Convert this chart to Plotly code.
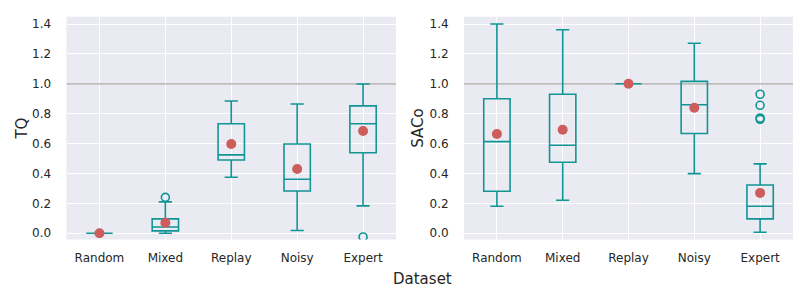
import plotly.graph_objects as go

categories = ["Random", "Mixed", "Replay", "Noisy", "Expert"]

# TQ box statistics
tq_q1 = [0.0, 0.016, 0.490, 0.283, 0.539]
tq_median = [0.0, 0.042, 0.524, 0.361, 0.733]
tq_q3 = [0.0, 0.096, 0.733, 0.597, 0.852]
tq_low = [0.0, 0.0, 0.375, 0.018, 0.183]
tq_high = [0.0, 0.210, 0.885, 0.865, 0.999]
tq_mean = [0.0, 0.070, 0.597, 0.430, 0.684]
tq_out_cat = ["Mixed", "Expert"]
tq_out_val = [0.240, -0.025]

# SACo box statistics
saco_q1 = [0.281, 0.475, 1.0, 0.667, 0.096]
saco_median = [0.613, 0.589, 1.0, 0.860, 0.181]
saco_q3 = [0.900, 0.930, 1.0, 1.016, 0.323]
saco_low = [0.181, 0.221, 1.0, 0.399, 0.007]
saco_high = [1.400, 1.362, 1.0, 1.271, 0.464]
saco_mean = [0.664, 0.693, 1.0, 0.840, 0.270]
saco_out_cat = ["Expert", "Expert", "Expert", "Expert"]
saco_out_val = [0.930, 0.856, 0.771, 0.762]

yticks = [0.0, 0.2, 0.4, 0.6, 0.8, 1.0, 1.2, 1.4]
ref_level = 1.0

TEAL = "#119595"
RED = "#CD5C5C"
BG = "#EAEAF2"
TXT = "#262626"

pos = list(range(len(categories)))
cat_index = {c: i for i, c in enumerate(categories)}
xlim = [-0.5, len(categories) - 0.5]

fig = go.Figure()

def add_panel(xa, ya, q1, med, q3, lo, hi, mean, ocat, oval):
    fig.add_shape(type="line", xref=xa, yref=ya, x0=xlim[0], x1=xlim[1],
                  y0=ref_level, y1=ref_level,
                  line=dict(color="#BEBEBE", width=1.8), layer="between")
    fig.add_trace(go.Box(
        x=pos, q1=q1, median=med, q3=q3, lowerfence=lo, upperfence=hi,
        boxpoints=False, width=0.4, whiskerwidth=0.5,
        line=dict(color=TEAL, width=1.6), fillcolor="rgba(0,0,0,0)",
        xaxis=xa, yaxis=ya, showlegend=False, hoverinfo="skip"))
    fig.add_trace(go.Scatter(
        x=[cat_index[c] for c in ocat], y=oval, mode="markers", xaxis=xa, yaxis=ya,
        showlegend=False,
        marker=dict(symbol="circle-open", size=8, color=TEAL, line=dict(width=1.6))))
    fig.add_trace(go.Scatter(
        x=pos, y=mean, mode="markers", xaxis=xa, yaxis=ya, showlegend=False,
        marker=dict(symbol="circle", size=10, color=RED)))

add_panel("x", "y", tq_q1, tq_median, tq_q3, tq_low, tq_high, tq_mean, tq_out_cat, tq_out_val)
add_panel("x2", "y2", saco_q1, saco_median, saco_q3, saco_low, saco_high, saco_mean, saco_out_cat, saco_out_val)

axis_common = dict(showgrid=True, gridcolor="white", gridwidth=1, zeroline=False,
                   showline=False, automargin=False,
                   tickfont=dict(family="DejaVu Sans", size=12, color=TXT))
xaxis_common = dict(axis_common, range=xlim, tickvals=pos, ticktext=categories,
                    ticks="outside", ticklen=7, tickcolor="rgba(0,0,0,0)")
yaxis_common = dict(axis_common, range=[-0.042, 1.449], tickvals=yticks,
                    ticktext=[f"{v:.1f}" for v in yticks],
                    ticks="outside", ticklen=12, tickcolor="rgba(0,0,0,0)")

# page body adds an 8px offset; figure coordinates below are shifted accordingly
W, H, OFF = 802, 280, 8
xd1 = [(66.5 - OFF) / W, (396 - OFF) / W]
xd2 = [(464 - OFF) / W, (793 - OFF) / W]
yd = [1 - (239.5 - OFF) / H, 1 - (16.7 - OFF) / H]

fig.update_layout(
    width=W, height=H,
    margin=dict(l=0, r=0, t=0, b=0, autoexpand=False),
    paper_bgcolor="white", plot_bgcolor=BG,
    font=dict(family="DejaVu Sans", color=TXT),
    xaxis=dict(xaxis_common, domain=xd1, anchor="y"),
    xaxis2=dict(xaxis_common, domain=xd2, anchor="y2"),
    yaxis=dict(yaxis_common, domain=yd, anchor="x",
               title=dict(text="TQ", font=dict(size=15, color=TXT), standoff=0)),
    yaxis2=dict(yaxis_common, domain=yd, anchor="x2",
                title=dict(text="SACo", font=dict(size=15, color=TXT), standoff=2)),
    annotations=[dict(text="Dataset", x=(422 - OFF) / W, y=1 - (279 - OFF) / H,
                      xref="paper", yref="paper",
                      xanchor="center", yanchor="middle", showarrow=False,
                      font=dict(size=15, color=TXT, family="DejaVu Sans"))],
)

fig.write_html("out.html")
